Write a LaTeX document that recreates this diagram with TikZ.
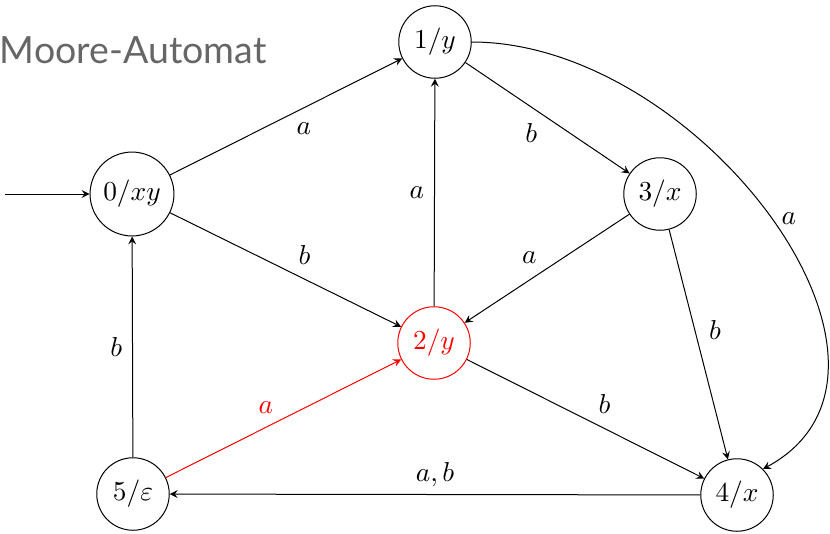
\documentclass[tikz,border=0pt]{standalone}
\usepackage{fontspec}
\newfontfamily\titlefont{Lato}
\usetikzlibrary{arrows}
\tikzset{
  state/.style={circle, draw, inner sep=3pt, minimum size=29pt, font=\fontsize{11}{13}\selectfont},
  trans/.style={->, >=stealth, line width=0.4pt},
  lbl/.style={inner sep=2pt, font=\fontsize{11}{13}\selectfont},
}
\begin{document}
\begin{tikzpicture}[x=0.4pt, y=-0.4pt]
  \useasboundingbox (0,0) rectangle (830,533);
  \node[anchor=base west, text=black!60, font=\titlefont\fontsize{15}{17}\selectfont] (title) at (-9,63) {Moore-Automat};
  % Zustaende
  \node[state] (q0) at (132,194) {$0/xy$};
  \node[state] (q1) at (435,42) {$1/y$};
  \node[state, red] (q2) at (434,343) {$2/y$};
  \node[state] (q3) at (660,194) {$3/x$};
  \node[state] (q4) at (737,495) {$4/x$};
  \node[state] (q5) at (133,494) {$5/\varepsilon$};
  \coordinate (start) at (5,194);
  % Uebergaenge
  \draw[trans] (start) -- (q0);
  \draw[trans] (q0) -- node[lbl, below right, xshift=2pt] {$a$} (q1);
  \draw[trans] (q0) -- node[lbl, above right, xshift=3pt] {$b$} (q2);
  \draw[trans] (q1) -- node[lbl, below left, xshift=-2pt] {$b$} (q3);
  \draw[trans] (q1.east) .. controls (700,42) and (945,370) .. node[lbl, pos=0.5, right, xshift=2pt] {$a$} (q4.north east);
  \draw[trans] (q2) -- node[lbl, left, xshift=-2pt] {$a$} (q1);
  \draw[trans] (q3) -- node[lbl, above left, xshift=-2pt] {$a$} (q2);
  \draw[trans] (q3) -- node[lbl, above right, xshift=2pt] {$b$} (q4);
  \draw[trans] (q2) -- node[lbl, above right, xshift=3pt] {$b$} (q4);
  \draw[trans] (q4) -- node[lbl, above, yshift=1pt] {$a,b$} (q5);
  \draw[trans] (q5) -- node[lbl, left, xshift=-2pt] {$b$} (q0);
  \draw[trans, red] (q5) -- node[lbl, above left, xshift=-2pt] {$a$} (q2);
\end{tikzpicture}
\end{document}
